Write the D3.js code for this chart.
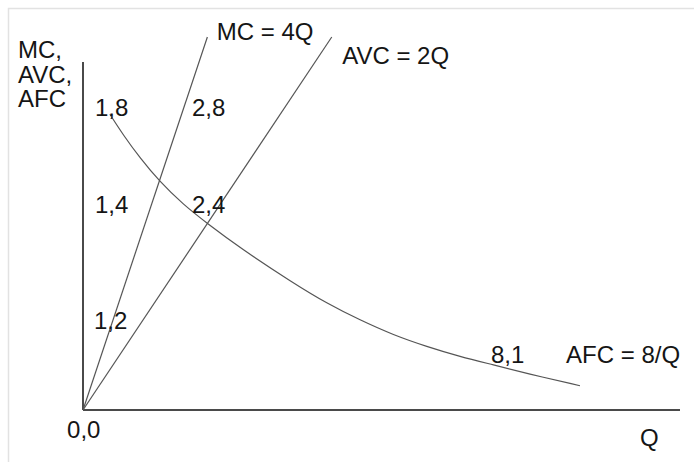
<!DOCTYPE html>
<html>
<head>
<meta charset="utf-8">
<script src="https://cdn.jsdelivr.net/npm/d3@7"></script>
<style>
  html, body { margin: 0; padding: 0; background: #fff; }
  svg { display: block; }
  text { font-family: "Liberation Sans", Arial, Helvetica, sans-serif; fill: #151515; }
</style>
</head>
<body>
<svg id="chart" width="694" height="462"></svg>
<script>
// ---- data (Q on x, cost on y; schematic diagram) ----
const qAxisMax = 12;
const costAxisMax = 9.33;

const mcLine  = [[0, 0], [2.5, 10]];   // MC = 4Q
const avcLine = [[0, 0], [5, 10]];     // AVC = 2Q

// AFC curve as drawn in the picture
const afcQ    = [0.54, 0.81, 1.15, 1.53, 2.02, 2.49, 3.16, 4.23, 4.90, 5.57, 6.24, 6.91, 7.58, 8.25, 8.92, 9.99];
const afcCost = [7.93, 7.37, 6.75, 6.14, 5.50, 5.01, 4.34, 3.40, 2.86, 2.41, 2.01, 1.70, 1.43, 1.21, 0.98, 0.65];

const curveLabels = ["MC = 4Q", "AVC = 2Q", "AFC = 8/Q"];
const curveLabelQ    = [2.69, 5.21, 9.71];
const curveLabelCost = [9.92, 9.28, 1.26];

const pointLabels = ["1,8", "2,8", "1,4", "2,4", "1,2", "8,1", "0,0"];
const pointLabelQ    = [0.24, 2.19, 0.24, 2.19, 0.22, 8.20, -0.32];
const pointLabelCost = [7.88, 7.88, 5.28, 5.28, 2.17, 1.26, -0.75];

const yTitleLines = ["MC,", "AVC,", "AFC"];
const xTitle = "Q";

// ---- drawing ----
const svg = d3.select("#chart");

// light frame (top & left edges as in the source image)
svg.append("path")
  .attr("d", "M8.5,462 V8.5 H694")
  .attr("fill", "none").attr("stroke", "#e2e2e2").attr("stroke-width", 1.5);

const x = d3.scaleLinear().domain([0, qAxisMax]).range([83, 680]);
const y = d3.scaleLinear().domain([0, costAxisMax]).range([410, 62]);

// axes
svg.append("line")
  .attr("x1", x(0)).attr("y1", y(0)).attr("x2", x(0)).attr("y2", y(costAxisMax))
  .attr("stroke", "#4a4a4a").attr("stroke-width", 2);
svg.append("line")
  .attr("x1", x(0)).attr("y1", y(0)).attr("x2", x(qAxisMax)).attr("y2", y(0))
  .attr("stroke", "#4a4a4a").attr("stroke-width", 2);

const line = d3.line().x(d => x(d[0])).y(d => y(d[1]));

svg.append("path").datum(mcLine).attr("d", line)
  .attr("fill", "none").attr("stroke", "#555").attr("stroke-width", 1.2);
svg.append("path").datum(avcLine).attr("d", line)
  .attr("fill", "none").attr("stroke", "#555").attr("stroke-width", 1.2);

const afc = afcQ.map((q, i) => [q, afcCost[i]]);
const smoothLine = d3.line().x(d => x(d[0])).y(d => y(d[1])).curve(d3.curveBasis);
svg.append("path").datum(afc)
  .attr("d", smoothLine)
  .attr("fill", "none").attr("stroke", "#555").attr("stroke-width", 1.2);

const fs = 24;

svg.selectAll("text.curve").data(curveLabels).join("text")
  .attr("class", "curve")
  .attr("x", (d, i) => x(curveLabelQ[i]))
  .attr("y", (d, i) => y(curveLabelCost[i]))
  .attr("font-size", fs)
  .text(d => d);

svg.selectAll("text.pt").data(pointLabels).join("text")
  .attr("class", "pt")
  .attr("x", (d, i) => x(pointLabelQ[i]))
  .attr("y", (d, i) => y(pointLabelCost[i]))
  .attr("font-size", fs)
  .text(d => d);

// y axis title
const yt = svg.append("text").attr("font-size", fs)
  .attr("x", 18).attr("y", 58);
yt.selectAll("tspan").data(yTitleLines).join("tspan")
  .attr("x", 18).attr("dy", (d, i) => i === 0 ? 0 : 24.5)
  .text(d => d);

// x axis title
svg.append("text").attr("font-size", fs)
  .attr("x", 640).attr("y", 446)
  .text(xTitle);
</script>
</body>
</html>
